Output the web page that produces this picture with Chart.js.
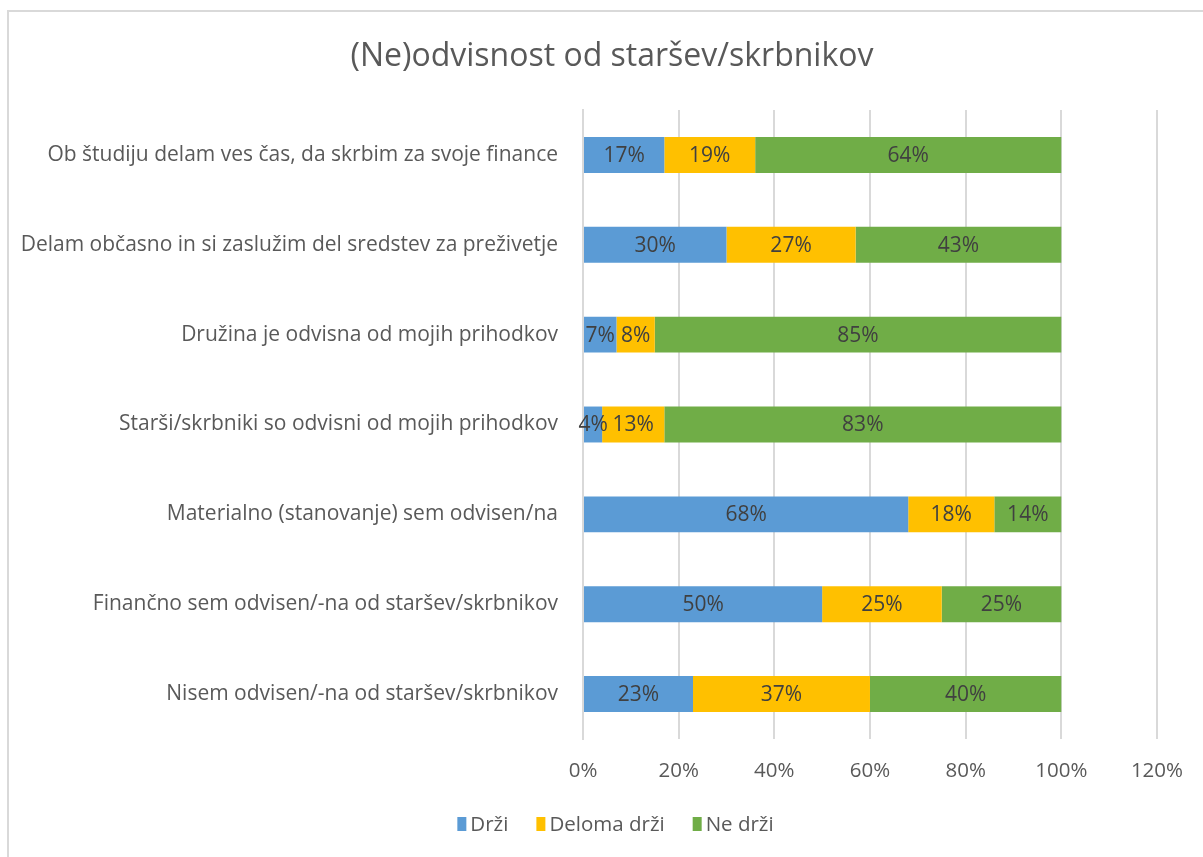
<!DOCTYPE html>
<html>
<head>
<meta charset="utf-8">
<script src="https://cdn.jsdelivr.net/npm/chart.js@4/dist/chart.umd.min.js"></script>
<style>
  html, body { margin: 0; padding: 0; background: #ffffff; overflow: hidden; }
  #frame { position: absolute; left: 7px; top: 10px; width: 1300px; height: 900px; border: 2px solid #d9d9d9; box-sizing: border-box; }
  #wrap { position: absolute; left: 0; top: 0; width: 1203px; height: 857px; }
</style>
</head>
<body>
<div id="frame"></div>
<div id="wrap"><canvas id="c" width="1203" height="857"></canvas></div>
<script>
const chartTitle = '(Ne)odvisnost od staršev/skrbnikov';
const categories = [
  'Ob študiju delam ves čas, da skrbim za svoje finance',
  'Delam občasno in si zaslužim del sredstev za preživetje',
  'Družina je odvisna od mojih prihodkov',
  'Starši/skrbniki so odvisni od mojih prihodkov',
  'Materialno (stanovanje) sem odvisen/na',
  'Finančno sem odvisen/-na od staršev/skrbnikov',
  'Nisem odvisen/-na od staršev/skrbnikov'
];
const seriesNames = ['Drži', 'Deloma drži', 'Ne drži'];
const drzi = [17, 30, 7, 4, 68, 50, 23];
const delomaDrzi = [19, 27, 8, 13, 18, 25, 37];
const neDrzi = [64, 43, 85, 83, 14, 25, 40];
const xTickLabels = ['0%', '20%', '40%', '60%', '80%', '100%', '120%'];
const colors = ['#5B9BD5', '#FFC000', '#70AD47'];

const FONT = '"Open Sans", Lato, sans-serif';

const labelPlugin = {
  id: 'barLabels',
  afterDatasetsDraw(chart) {
    const ctx = chart.ctx;
    ctx.save();
    ctx.font = '21px ' + FONT;
    ctx.fillStyle = '#404040';
    ctx.textAlign = 'center';
    ctx.textBaseline = 'middle';
    chart.data.datasets.forEach((ds, i) => {
      const meta = chart.getDatasetMeta(i);
      meta.data.forEach((el, j) => {
        const p = el.getProps(['x', 'y', 'base'], true);
        ctx.fillText(ds.data[j] + '%', (p.x + p.base) / 2, p.y + 1);
      });
    });
    ctx.restore();
  }
};

const titleAndLegendPlugin = {
  id: 'titleAndLegend',
  afterDraw(chart) {
    const ctx = chart.ctx;
    ctx.save();
    // title
    ctx.font = '32px ' + FONT;
    ctx.fillStyle = '#595959';
    ctx.textAlign = 'center';
    ctx.textBaseline = 'middle';
    ctx.fillText(chartTitle, 612, 57);
    // legend
    ctx.font = '20.5px ' + FONT;
    ctx.textAlign = 'left';
    const boxW = 9, boxH = 14, gap = 4, spacing = 28;
    const items = chart.data.datasets.map(ds => ({
      text: ds.label, color: ds.backgroundColor, w: ctx.measureText(ds.label).width
    }));
    const total = items.reduce((s, it) => s + boxW + gap + it.w, 0) + spacing * (items.length - 1);
    const cy = 824;
    let x = 615.5 - total / 2;
    items.forEach(it => {
      ctx.fillStyle = it.color;
      ctx.fillRect(x, cy - boxH / 2, boxW, boxH);
      x += boxW + gap;
      ctx.fillStyle = '#595959';
      ctx.fillText(it.text, x, cy + 1);
      x += it.w + spacing;
    });
    ctx.restore();
  }
};

new Chart(document.getElementById('c'), {
  type: 'bar',
  data: {
    labels: categories,
    datasets: [
      { label: seriesNames[0], data: drzi, backgroundColor: colors[0] },
      { label: seriesNames[1], data: delomaDrzi, backgroundColor: colors[1] },
      { label: seriesNames[2], data: neDrzi, backgroundColor: colors[2] }
    ]
  },
  options: {
    indexAxis: 'y',
    responsive: false,
    animation: false,
    devicePixelRatio: 1,
    datasets: { bar: { categoryPercentage: 0.5, barPercentage: 0.8, borderWidth: 0 } },
    layout: { padding: { left: 0, right: 45, top: 110, bottom: 58 } },
    scales: {
      x: {
        stacked: true,
        min: 0, max: 120,
        ticks: {
          stepSize: 20,
          padding: 20,
          color: '#595959',
          font: { family: FONT, size: 20.5 },
          callback: (v, i) => xTickLabels[i]
        },
        grid: { color: '#d9d9d9', lineWidth: 2, drawTicks: false },
        border: { display: false },
        afterFit: s => { s.height = 60; }
      },
      y: {
        stacked: true,
        ticks: {
          padding: 25,
          color: '#595959',
          font: { family: FONT, size: 21 }
        },
        grid: { display: false, drawTicks: false },
        border: { display: true, color: '#d9d9d9', width: 2 },
        afterFit: s => { s.width = 583; }
      }
    },
    plugins: {
      title: { display: false },
      legend: { display: false },
      tooltip: { enabled: false }
    }
  },
  plugins: [labelPlugin, titleAndLegendPlugin]
});
</script>
</body>
</html>
